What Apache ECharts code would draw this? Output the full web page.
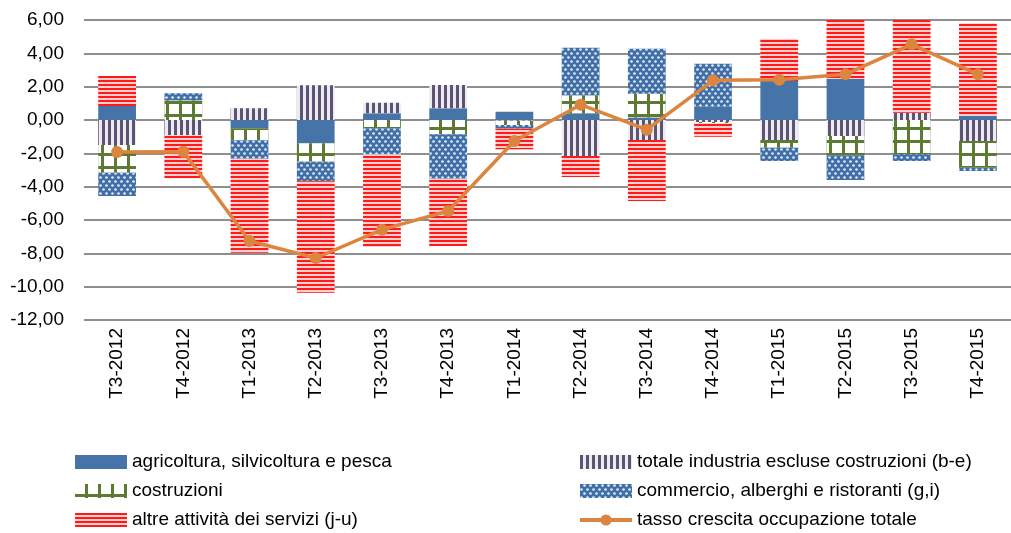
<!DOCTYPE html>
<html>
<head>
<meta charset="utf-8">
<script src="https://cdn.jsdelivr.net/npm/echarts@6/dist/echarts.min.js"></script>
<style>
  html, body { margin: 0; padding: 0; background: #fff; }
  #chart { width: 1011px; height: 533px; }
</style>
</head>
<body>
<div id="chart"></div>
<script>
// trimestri
const categories = ['T3-2012', 'T4-2012', 'T1-2013', 'T2-2013', 'T3-2013', 'T4-2013', 'T1-2014',
  'T2-2014', 'T3-2014', 'T4-2014', 'T1-2015', 'T2-2015', 'T3-2015', 'T4-2015']

// contributi per settore (punti percentuali)
const agricoltura = [0.84, 0, -0.5, -1.4, 0.4, 0.7, 0.5, 0.4, 0.15, 0.8, 2.34, 2.48, 0, 0.24]
const industria = [-1.5, -0.92, 0.7, 2.08, 0.64, 1.4, -0.05, -2.16, -1.2, -0.12, -1.2, -0.96, 0.44, -1.26]
const costruzioni = [-1.66, 1.18, -0.72, -1.1, -0.5, -0.86, -0.25, 1.08, 1.43, -0.08, -0.46, -1.16, -2.06, -1.6]
const commercio = [-1.4, 0.42, -1.1, -1.18, -1.56, -2.66, -0.22, 2.86, 2.7, 2.58, -0.8, -1.48, -0.4, -0.2]
const altreServizi = [1.8, -2.58, -5.64, -6.68, -5.56, -4.04, -1.24, -1.26, -3.66, -0.8, 2.54, 3.86, 6.56, 5.56]
// tasso crescita occupazione totale
const tassoTotale = [-1.92, -1.9, -7.26, -8.28, -6.58, -5.46, -1.26, 0.92, -0.58, 2.38, 2.42, 2.74, 4.54, 2.74]

const yTicks = { min: -12, max: 6, interval: 2 }

const FONT = 'Liberation Sans, Arial, sans-serif'

const chart = echarts.init(document.getElementById('chart'))

const barBase = {
  type: 'bar',
  stack: 'tot',
  barWidth: '57%',
  emphasis: { disabled: true }
}

const legendText = { fontSize: 19, color: '#000', lineHeight: 20, fontFamily: FONT }

const option = {
  animation: false,
  backgroundColor: '#fff',
  textStyle: { fontFamily: FONT },
  grid: { left: 84, top: 20, width: 939, height: 300 },
  legend: [
    {
      left: 70, top: 447, orient: 'vertical', height: 120,
      itemWidth: 52, itemHeight: 14, itemGap: 9,
      textStyle: legendText,
      data: [
        { name: 'agricoltura, silvicoltura e pesca', icon: 'rect' },
        { name: 'costruzioni', icon: 'rect' },
        { name: 'altre attività dei servizi (j-u)', icon: 'rect' }
      ]
    },
    {
      left: 573, top: 447, orient: 'vertical', height: 120,
      itemWidth: 52, itemHeight: 14, itemGap: 9,
      textStyle: legendText,
      data: [
        { name: 'totale industria escluse costruzioni (b-e)', icon: 'rect' },
        { name: 'commercio, alberghi e ristoranti (g,i)', icon: 'rect' },
        { name: 'tasso crescita occupazione totale', lineStyle: { width: 4 } }
      ]
    }
  ],
  xAxis: {
    type: 'category',
    data: categories,
    position: 'bottom',
    axisLine: { show: false },
    axisTick: { show: false },
    axisLabel: { rotate: 90, fontSize: 19, color: '#000', margin: 8, fontFamily: FONT }
  },
  yAxis: {
    type: 'value',
    min: yTicks.min,
    max: yTicks.max,
    interval: yTicks.interval,
    axisLine: { show: false },
    axisTick: { show: false },
    axisLabel: {
      fontSize: 19, color: '#000', margin: 20, fontFamily: FONT,
      formatter: v => v.toFixed(2).replace('.', ',')
    },
    splitLine: { lineStyle: { color: '#8e8e8e', width: 2 } }
  },
  series: [
    Object.assign({}, barBase, {
      name: 'agricoltura, silvicoltura e pesca',
      data: agricoltura,
      itemStyle: { color: '#4673a8' }
    }),
    Object.assign({}, barBase, {
      name: 'totale industria escluse costruzioni (b-e)',
      data: industria,
      itemStyle: {
        color: '#ecebf1',
        decal: { symbol: 'rect', symbolSize: 1, color: '#5d5372', dashArrayX: [3, 3], dashArrayY: [1, 0], rotation: 0 }
      }
    }),
    Object.assign({}, barBase, {
      name: 'costruzioni',
      data: costruzioni,
      itemStyle: {
        color: '#5c7a32',
        decal: { symbol: 'rect', symbolSize: 1, color: '#ffffff', dashArrayX: [10, 3], dashArrayY: [10, 3], rotation: 0 }
      }
    }),
    Object.assign({}, barBase, {
      name: 'commercio, alberghi e ristoranti (g,i)',
      data: commercio,
      itemStyle: {
        color: '#4170a8',
        decal: { symbol: 'circle', symbolSize: 0.9, color: '#dfe8f4', dashArrayX: [[3, 3], [0, 3, 3, 0]], dashArrayY: [3, 1], rotation: 0 }
      }
    }),
    Object.assign({}, barBase, {
      name: 'altre attività dei servizi (j-u)',
      data: altreServizi,
      itemStyle: {
        color: '#ffd0d0',
        decal: { symbol: 'rect', symbolSize: 1, color: '#ff1a1a', dashArrayX: [1, 0], dashArrayY: [2, 2], rotation: 0 }
      }
    }),
    {
      name: 'tasso crescita occupazione totale',
      type: 'line',
      data: tassoTotale,
      symbol: 'circle',
      symbolSize: 12,
      lineStyle: { color: '#db853f', width: 3.5 },
      itemStyle: { color: '#db853f' },
      emphasis: { disabled: true },
      z: 5
    }
  ]
}

chart.setOption(option)
</script>
</body>
</html>
